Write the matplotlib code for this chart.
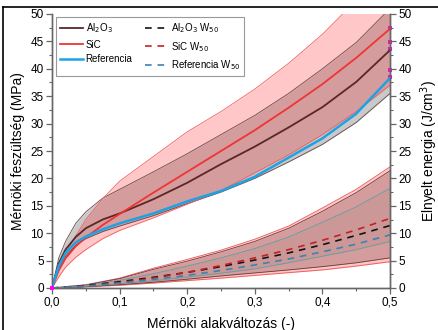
import matplotlib
matplotlib.use("Agg")
import matplotlib.pyplot as plt
from matplotlib.lines import Line2D
from matplotlib.ticker import MultipleLocator, FuncFormatter

plt.rcParams['font.family'] = ['Liberation Sans', 'DejaVu Sans']

# strain (-) for the stress curves
strain = [0, 0.01, 0.02, 0.035, 0.05, 0.075, 0.1, 0.15, 0.2, 0.25, 0.3, 0.35, 0.4, 0.45, 0.5]
# engineering stress, MPa
al2o3 = [0, 4.5, 7.0, 9.3, 10.9, 12.5, 13.6, 16.2, 19.2, 22.6, 25.8, 29.3, 33.0, 37.6, 43.4]
al2o3_hi = [0, 5.5, 8.5, 11.8, 13.9, 16.4, 18.0, 21.2, 24.5, 28.0, 31.5, 35.5, 40.0, 44.8, 51.0]
al2o3_lo = [0, 3.5, 5.8, 7.8, 9.0, 10.3, 11.3, 13.2, 15.4, 17.5, 20.0, 23.0, 26.2, 30.2, 35.5]
sic = [0, 3.2, 5.4, 7.6, 9.2, 11.5, 13.5, 17.4, 21.2, 25.0, 28.8, 32.9, 37.2, 42.0, 47.3]
sic_hi = [0, 3.8, 6.2, 9.5, 12.5, 16.3, 19.5, 24.0, 28.5, 32.2, 36.3, 41.0, 46.3, 52.5, 59.0]
sic_lo = [0, 2.0, 3.8, 5.6, 7.0, 9.0, 10.5, 12.8, 15.3, 17.8, 21.0, 24.3, 28.0, 32.2, 37.0]
ref = [0, 4.0, 6.4, 8.3, 9.4, 10.7, 11.8, 13.6, 15.8, 17.7, 20.3, 23.8, 27.3, 31.8, 38.3]

# absorbed energy W50, J/cm3
strain_w = [0, 0.05, 0.1, 0.15, 0.2, 0.25, 0.3, 0.35, 0.4, 0.45, 0.5]
al2o3_w = [0, 0.45, 1.15, 1.95, 2.85, 3.9, 5.1, 6.4, 7.9, 9.6, 11.4]
al2o3_w_hi = [0, 0.55, 1.7, 3.4, 4.9, 6.6, 8.5, 10.9, 14.0, 17.4, 21.4]
al2o3_w_lo = [0, 0.25, 0.6, 1.05, 1.6, 2.2, 2.75, 3.3, 3.9, 4.6, 5.5]
sic_w = [0, 0.3, 0.95, 1.8, 2.85, 4.1, 5.5, 7.0, 8.7, 10.6, 12.7]
sic_w_hi = [0, 0.6, 1.8, 3.6, 5.2, 6.9, 8.9, 11.3, 14.6, 18.0, 22.1]
sic_w_lo = [0, 0.2, 0.5, 0.9, 1.35, 1.8, 2.3, 2.8, 3.3, 4.0, 4.8]
ref_w = [0, 0.35, 0.9, 1.55, 2.3, 3.2, 4.2, 5.3, 6.6, 8.0, 9.7]
ref_w_hi = [0, 0.5, 1.4, 2.6, 4.0, 5.5, 7.2, 9.3, 12.0, 14.8, 18.2]
ref_w_lo = [0, 0.3, 0.8, 1.3, 2.0, 2.7, 3.5, 4.6, 5.8, 7.0, 8.5]

# small magenta end marks on the right axis
end_marks = [47.4, 44.9, 43.6, 39.8, 38.5]

fig = plt.figure(figsize=(4.39, 3.30), dpi=100)
ax = fig.add_axes([52/439, 42/330, 338/439, 274/330])
ax2 = ax.twinx()

c_al = '#5a2626'
c_sic = '#f03434'
c_ref = '#1ea2e6'

# stress bands: gray first, pink on top
ax.fill_between(strain, al2o3_lo, al2o3_hi, color='#808080', alpha=0.42, lw=0)
ax.plot(strain, al2o3_hi, color='#6a4a4a', lw=0.6)
ax.plot(strain, al2o3_lo, color='#6a4a4a', lw=0.6)
ax.fill_between(strain, sic_lo, sic_hi, color='#ff0000', alpha=0.22, lw=0)
ax.plot(strain, sic_hi, color='#f06060', lw=0.6)
ax.plot(strain, sic_lo, color='#f06060', lw=0.6)

l1, = ax.plot(strain, al2o3, color=c_al, lw=1.3, label='Al$_2$O$_3$')
l2, = ax.plot(strain, sic, color=c_sic, lw=1.3, label='SiC')
l3, = ax.plot(strain, ref, color=c_ref, lw=1.8, label='Referencia')

# energy bands
ax2.fill_between(strain_w, al2o3_w_lo, al2o3_w_hi, color='#808080', alpha=0.42, lw=0)
ax2.fill_between(strain_w, ref_w_lo, ref_w_hi, color='#7a9a9a', alpha=0.15, lw=0)
ax2.fill_between(strain_w, sic_w_lo, sic_w_hi, color='#ff0000', alpha=0.22, lw=0)
ax2.plot(strain_w, sic_w_hi, color='#f06060', lw=0.7)
ax2.plot(strain_w, sic_w_lo, color='#f06060', lw=0.7)
ax2.plot(strain_w, al2o3_w_hi, color='#6a3a3a', lw=0.6)
ax2.plot(strain_w, al2o3_w_lo, color='#6a3a3a', lw=0.6)
ax2.plot(strain_w, ref_w_hi, color='#5f9fa0', lw=0.6)
ax2.plot(strain_w, ref_w_lo, color='#5f9fa0', lw=0.6)

l4, = ax2.plot(strain_w, al2o3_w, color='#1a1010', lw=1.2, dashes=(4, 3.5), label='Al$_2$O$_3$ W$_{50}$')
l5, = ax2.plot(strain_w, sic_w, color='#c82020', lw=1.2, dashes=(4, 3.5), label='SiC W$_{50}$')
l6, = ax2.plot(strain_w, ref_w, color='#3c82b4', lw=1.2, dashes=(4, 3.5), label='Referencia W$_{50}$')

ax2.scatter([0.5] * len(end_marks), end_marks, s=6, color='magenta', marker='s', lw=0, clip_on=False, zorder=5)
ax.scatter([0], [0], s=8, color='magenta', marker='s', lw=0, clip_on=False, zorder=5)

for a in (ax, ax2):
    a.set_xlim(0, 0.5)
    a.set_ylim(0, 50)
    a.yaxis.set_major_locator(MultipleLocator(5))
    a.yaxis.set_minor_locator(MultipleLocator(2.5))
    for s in a.spines.values():
        s.set_color('#666666')
        s.set_linewidth(1.0)
    a.spines['top'].set_visible(False)
    a.tick_params(which='major', length=4, width=0.9, color='#666666', labelsize=8.5, pad=2)
    a.tick_params(which='minor', length=2, width=0.8, color='#666666')

ax.xaxis.set_major_locator(MultipleLocator(0.1))
ax.xaxis.set_minor_locator(MultipleLocator(0.05))
ax.xaxis.set_major_formatter(FuncFormatter(lambda v, p: f'{v:.1f}'.replace('.', ',')))

ax.set_xlabel('Mérnöki alakváltozás (-)', fontsize=10, labelpad=6)
ax.set_ylabel('Mérnöki feszültség (MPa)', fontsize=10, labelpad=4)
ax2.set_ylabel('Elnyelt energia (J/cm$^3$)', fontsize=10, labelpad=5)

leg = ax.legend(handles=[l1, l2, l3, l4, l5, l6], ncol=2, fontsize=7,
                loc='upper left', bbox_to_anchor=(0.012, 0.988), borderaxespad=0,
                fancybox=False, framealpha=1, edgecolor='#999999',
                handlelength=2.3, handletextpad=0.3, columnspacing=1.3,
                labelspacing=0.45, borderpad=0.45)
leg.get_frame().set_linewidth(0.8)
leg.set_zorder(10)
# legend draws over the twin axes
ax.set_zorder(ax2.get_zorder() + 1)
ax.patch.set_visible(False)

# outer frame of the figure
fig.add_artist(Line2D([3/439, 1], [1 - 7/330, 1 - 7/330], color='black', lw=1.2))
fig.add_artist(Line2D([3/439, 3/439], [0, 1 - 7/330], color='black', lw=1.2))

fig.savefig('out.png', dpi=100)
